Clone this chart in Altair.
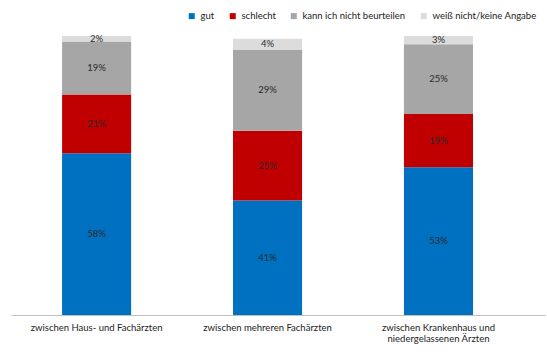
import altair as alt
import pandas as pd

categories = ["zwischen Haus- und Fachärzten", "zwischen mehreren Fachärzten",
              "zwischen Krankenhaus und niedergelassenen Ärzten"]
series = ["gut", "schlecht", "kann ich nicht beurteilen", "weiß nicht/keine Angabe"]
colors = ["#0070C0", "#C00000", "#A6A6A6", "#DCDCDC"]
gut = [58, 41, 53]
schlecht = [21, 25, 19]
kann = [19, 29, 25]
weiss = [2, 4, 3]

rows = []
for i, c in enumerate(categories):
    for j, (s, vals) in enumerate(zip(series, [gut, schlecht, kann, weiss])):
        rows.append({"cat": c, "series": s, "value": vals[i], "order": j,
                     "label": f"{vals[i]}%"})
df = pd.DataFrame(rows)

FONT = "Lato"

x = alt.X("cat:N", sort=categories, title=None,
          scale=alt.Scale(paddingInner=0.596, paddingOuter=0.36, align=0.415),
          axis=alt.Axis(labelAngle=0, ticks=False, domainColor="#BFBFBF", domainWidth=1.2,
                        labelFont=FONT, labelFontSize=9.5, labelColor="#222222",
                        labelPadding=7, labelLimit=300,
                        labelExpr="datum.value == 'zwischen Krankenhaus und niedergelassenen Ärzten' ? ['zwischen Krankenhaus und', 'niedergelassenen Ärzten'] : datum.value"))

base = alt.Chart(df).transform_stack(
    stack="value", as_=["y0", "y1"], groupby=["cat"], sort=[alt.SortField("order")]
).transform_calculate(mid="(datum.y0 + datum.y1) / 2")

bars = base.mark_bar().encode(
    x=x,
    y=alt.Y("y0:Q", scale=alt.Scale(domain=[0, 100], nice=False), axis=None),
    y2="y1:Q",
    color=alt.Color("series:N", sort=series,
                    scale=alt.Scale(domain=series, range=colors),
                    legend=alt.Legend(title=None, orient="none", direction="horizontal",
                                      legendX=176, legendY=-25, symbolType="square",
                                      symbolSize=36, symbolStrokeWidth=0,
                                      labelFont=FONT, labelFontSize=9.5,
                                      labelColor="#222222", columnPadding=13,
                                      labelOffset=4)),
    order=alt.Order("order:Q"),
)

texts = base.mark_text(font=FONT, fontSize=9.5, color="#2a2a2a").encode(
    x=alt.X("cat:N", sort=categories),
    y=alt.Y("mid:Q"),
    text="label:N",
)

chart = alt.layer(bars, texts).properties(
    width=534, height=279,
    autosize=alt.AutoSizeParams(type="none"),
    padding={"left": 11, "top": 36, "right": 2, "bottom": 39},
).configure(background="white").configure_view(stroke=None, strokeWidth=0)

chart.save("out.html", embed_options={"renderer": "svg", "actions": False})
